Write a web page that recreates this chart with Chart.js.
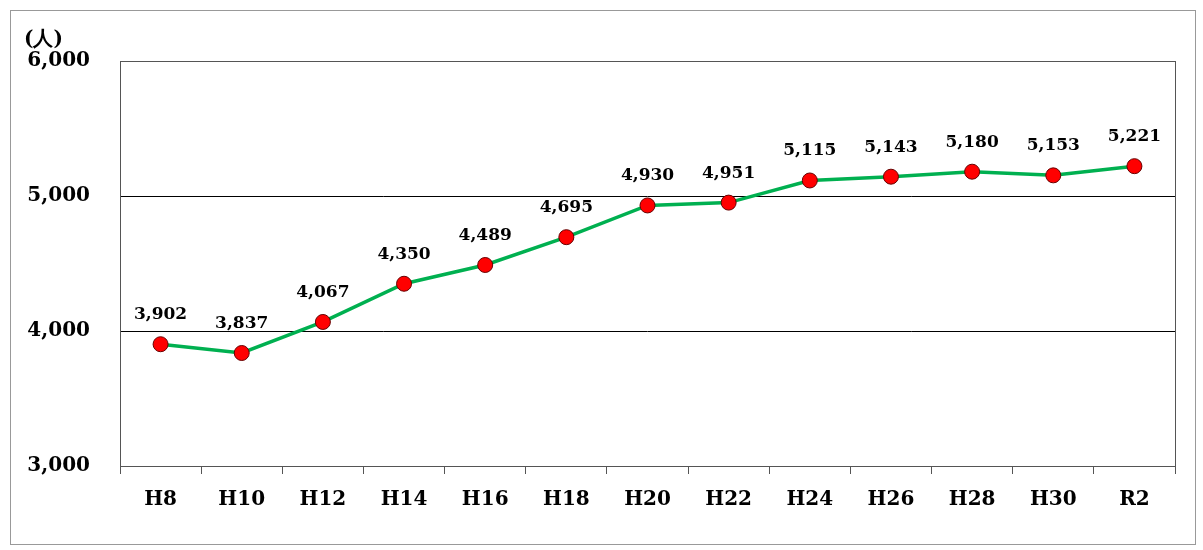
<!DOCTYPE html>
<html><head><meta charset="utf-8">
<script src="https://cdn.jsdelivr.net/npm/chart.js@4"></script>
<style>html,body{margin:0;padding:0;background:#fff}#w{width:1203px;height:550px}</style>
</head><body><div id="w"><canvas id="c"></canvas></div>
<script>
const categories=["H8","H10","H12","H14","H16","H18","H20","H22","H24","H26","H28","H30","R2"];
const values=[3902,3837,4067,4350,4489,4695,4930,4951,5115,5143,5180,5153,5221];
const yTicks=[3000,4000,5000,6000];
const F='"DejaVu Serif","Liberation Serif",serif';
const deco={id:'deco',afterDraw(ch){const c=ch.ctx,a=ch.chartArea;c.save();
c.strokeStyle='#999';c.lineWidth=1;c.strokeRect(10.5,10.5,1185,534);
c.strokeStyle='#555';c.strokeRect(a.left+.5,a.top+.5,a.right-a.left,a.bottom-a.top);
c.fillStyle='#000';c.font='bold 20px '+F;c.textAlign='left';c.textBaseline='middle';c.fillText('(人)',24,40);
c.font='bold 17px '+F;c.textAlign='center';c.textBaseline='alphabetic';
const m=ch.getDatasetMeta(0);m.data.forEach((p,i)=>c.fillText(values[i].toLocaleString('en-US'),p.x,p.y-25));
c.restore();}};
new Chart(document.getElementById('c'),{type:'line',
data:{labels:categories,datasets:[{data:values,borderColor:'#00b050',borderWidth:3.5,pointRadius:7.5,pointHoverRadius:7.5,pointBackgroundColor:'#ff0000',pointBorderColor:'#600',pointBorderWidth:1,tension:0}]},
options:{responsive:true,maintainAspectRatio:false,animation:false,layout:{padding:{top:61,right:28,left:0,bottom:0}},
plugins:{legend:{display:false},tooltip:{enabled:false}},
scales:{x:{offset:true,grid:{offset:true,drawOnChartArea:false,tickLength:8,color:'#555'},border:{display:false},
ticks:{color:'#000',font:{family:F,size:20,weight:'bold'},padding:14},afterFit(s){s.height=84;}},
y:{min:3000,max:6000,afterBuildTicks(s){s.ticks=yTicks.map(v=>({value:v}));},
grid:{color:'#000',tickLength:0},border:{display:false},
ticks:{color:'#000',padding:30,font:{family:F,size:20,weight:'bold'},callback:v=>v.toLocaleString('en-US')},afterFit(s){s.width=120;}}}},
plugins:[deco]});
</script></body></html>
